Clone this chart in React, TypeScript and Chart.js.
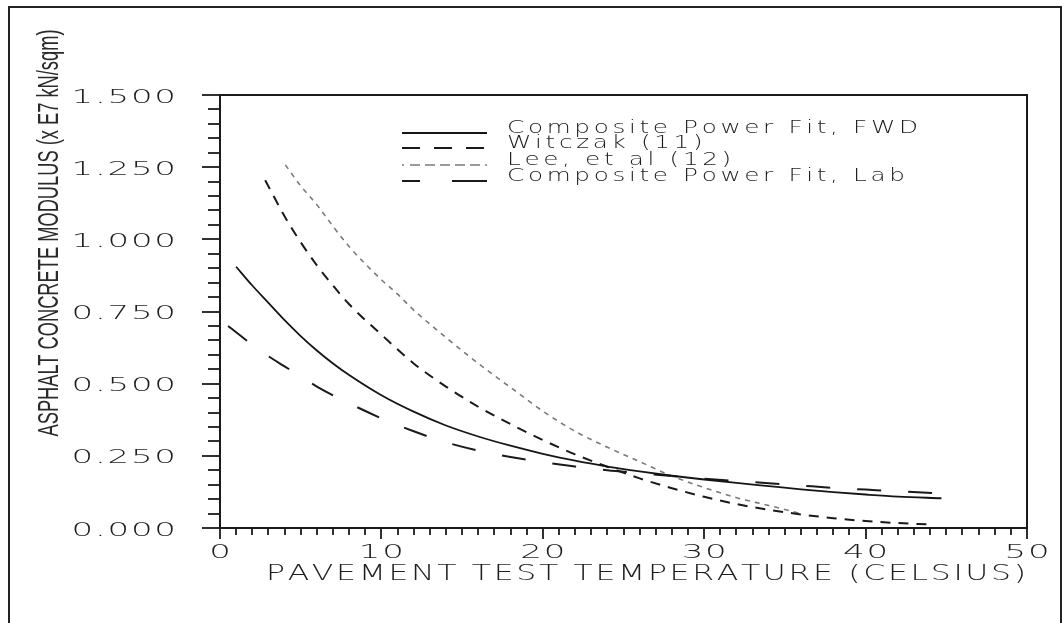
import React, { useEffect, useRef } from "react";
import { Chart, registerables } from "chart.js";

Chart.register(...registerables);

// ---------------- data (temperature in °C, modulus in x E7 kN/sqm) ----------------
const fwdTemp = [1, 2, 3, 4, 5, 6, 7, 8, 10, 12, 14, 16, 18, 20, 22, 24, 26, 28, 30, 32, 34, 36, 38, 40, 42, 44.7];
const fwdModulus = [0.905, 0.84, 0.78, 0.72, 0.665, 0.615, 0.57, 0.53, 0.46, 0.403, 0.355, 0.317, 0.285, 0.257, 0.233, 0.213, 0.196, 0.181, 0.168, 0.156, 0.145, 0.134, 0.124, 0.116, 0.109, 0.103];

const witczakTemp = [2.8, 4, 5, 6, 7, 8, 10, 12, 14, 16, 18, 20, 22, 24, 26, 28, 30, 32, 34, 36, 38, 40, 42, 44];
const witczakModulus = [1.205, 1.08, 0.99, 0.91, 0.84, 0.775, 0.67, 0.57, 0.49, 0.42, 0.36, 0.305, 0.255, 0.212, 0.172, 0.138, 0.108, 0.083, 0.063, 0.047, 0.034, 0.024, 0.017, 0.012];

const leeTemp = [4.05, 5, 6, 7, 8, 9, 10, 11, 12, 14, 16, 18, 20, 22, 24, 26, 28, 30, 32, 34, 36];
const leeModulus = [1.258, 1.185, 1.12, 1.045, 0.975, 0.915, 0.86, 0.81, 0.755, 0.66, 0.57, 0.487, 0.405, 0.335, 0.28, 0.23, 0.18, 0.14, 0.105, 0.078, 0.05];

const labTemp = [0.5, 2, 3, 4, 5, 6, 8, 10, 12, 14, 16, 18, 20, 22, 24, 26, 28, 30, 32, 34, 36, 38, 40, 42, 44.3];
const labModulus = [0.7, 0.635, 0.595, 0.56, 0.525, 0.49, 0.432, 0.38, 0.335, 0.297, 0.268, 0.246, 0.228, 0.213, 0.2, 0.19, 0.18, 0.171, 0.163, 0.155, 0.147, 0.139, 0.133, 0.127, 0.121];

const seriesLabels = [
  "Composite Power Fit, FWD",
  "Witczak (11)",
  "Lee, et al (12)",
  "Composite Power Fit, Lab",
];

const xTickValues = [0, 10, 20, 30, 40, 50];
const yTickValues = [0, 0.25, 0.5, 0.75, 1.0, 1.25, 1.5];
const xTitle = "PAVEMENT TEST TEMPERATURE (CELSIUS)";
const yTitle = "ASPHALT CONCRETE MODULUS (x E7 kN/sqm)";

// ---------------- styles ----------------
const TEXT_COLOR = "#1e1e1e";
const LINE_COLOR = "#1a1a1a";
const TICK_FONT = '200 20px "DejaVu Sans"';
const TITLE_FONT = '200 21px "DejaVu Sans"';
const LEGEND_FONT = '200 17px "DejaVu Sans"';
const YTITLE_FONT = '29px "Liberation Sans"';

const styles = [
  { color: "#151515", width: 1.8, dash: [] as number[], legendDash: [] as number[] },
  { color: "#1a1a1a", width: 2, dash: [10, 8], legendDash: [18, 14] },
  { color: "#7a7a7a", width: 1.6, dash: [5, 5], legendDash: [2, 6, 10, 5, 10, 5, 10, 5, 10, 5, 10, 5, 10] },
  { color: "#1a1a1a", width: 2, dash: [24, 27], legendDash: [18, 32, 40] },
];

function toPoints(xs: number[], ys: number[]) {
  return xs.map((x, i) => ({ x, y: ys[i] }));
}

function measureSpaced(ctx: CanvasRenderingContext2D, text: string, sx: number, sp: number) {
  let w = 0;
  for (const ch of text) w += ctx.measureText(ch).width * sx + sp;
  return w - sp;
}

function drawSpaced(ctx: CanvasRenderingContext2D, text: string, x: number, y: number, sx: number, sp: number) {
  let cx = x;
  for (const ch of text) {
    const cw = ctx.measureText(ch).width;
    ctx.save();
    ctx.translate(cx, y);
    ctx.scale(sx, 1);
    ctx.fillText(ch, 0, 0);
    ctx.restore();
    cx += cw * sx + sp;
  }
}

const decor = {
  id: "decor",
  afterDraw(chart: any) {
    const { ctx, chartArea: a, scales } = chart;
    const xs = scales.x;
    const ys = scales.y;
    ctx.save();
    ctx.setLineDash([]);

    // outer frame
    ctx.strokeStyle = "#222";
    ctx.lineWidth = 2;
    ctx.strokeRect(9, 7, 1052, 700);

    // plot box
    ctx.strokeStyle = LINE_COLOR;
    ctx.lineWidth = 2;
    ctx.strokeRect(a.left, a.top, a.right - a.left, a.bottom - a.top);

    // y ticks (minor every 0.05, major every 0.25)
    ctx.lineWidth = 1.8;
    for (let i = 0; i <= 30; i++) {
      const py = Math.round(ys.getPixelForValue(i * 0.05));
      const len = i % 5 === 0 ? 18 : 12;
      ctx.beginPath();
      ctx.moveTo(a.left - len, py);
      ctx.lineTo(a.left, py);
      ctx.stroke();
    }
    // x ticks (minor every 1, major every 10)
    for (let i = 0; i <= 50; i++) {
      const px = Math.round(xs.getPixelForValue(i));
      const len = i % 10 === 0 ? 11 : 7;
      ctx.beginPath();
      ctx.moveTo(px, a.bottom);
      ctx.lineTo(px, a.bottom + len);
      ctx.stroke();
    }

    ctx.fillStyle = TEXT_COLOR;
    ctx.textAlign = "left";
    ctx.textBaseline = "alphabetic";

    // tick labels
    ctx.font = TICK_FONT;
    const tsx = 1.7, tsp = 1.8;
    for (const v of yTickValues) {
      const t = v.toFixed(3);
      const w = measureSpaced(ctx, t, tsx, tsp);
      const py = ys.getPixelForValue(v);
      drawSpaced(ctx, t, 176 - w, py + 7.5, tsx, tsp);
    }
    for (const v of xTickValues) {
      const t = String(v);
      const w = measureSpaced(ctx, t, tsx, tsp);
      const px = xs.getPixelForValue(v);
      drawSpaced(ctx, t, px - w / 2, 557.5, tsx, tsp);
    }

    // x title
    ctx.font = TITLE_FONT;
    {
      const sx = 1.5;
      const nat = measureSpaced(ctx, xTitle, sx, 0);
      const sp = (760 - nat) / (xTitle.length - 1);
      drawSpaced(ctx, xTitle, 266, 580, sx, sp);
    }

    // y title (rotated, condensed)
    ctx.font = YTITLE_FONT;
    {
      const w = ctx.measureText(yTitle).width;
      const sx = 407 / w;
      ctx.save();
      ctx.translate(58, 233);
      ctx.rotate(-Math.PI / 2);
      ctx.scale(sx, 1);
      ctx.textAlign = "center";
      ctx.fillStyle = "#2a2a2a";
      ctx.fillText(yTitle, 0, 0);
      ctx.restore();
    }

    // legend
    ctx.font = LEGEND_FONT;
    const lsx = 1.45;
    const nat0 = measureSpaced(ctx, seriesLabels[0], lsx, 0);
    const lsp = (411 - nat0) / (seriesLabels[0].length - 1);
    const rows = [133, 148, 165, 181];
    seriesLabels.forEach((label, i) => {
      const st = styles[i];
      ctx.save();
      ctx.strokeStyle = st.color;
      ctx.lineWidth = st.width;
      ctx.setLineDash(st.legendDash);
      ctx.beginPath();
      ctx.moveTo(402, rows[i]);
      ctx.lineTo(487, rows[i]);
      ctx.stroke();
      ctx.restore();
      ctx.fillStyle = TEXT_COLOR;
      drawSpaced(ctx, label, 507, rows[i] - 0.5, lsx, lsp);
    });

    ctx.restore();
  },
};

export default function App() {
  const ref = useRef<HTMLCanvasElement>(null);

  useEffect(() => {
    const canvas = ref.current;
    if (!canvas) return;
    const seriesData = [
      toPoints(fwdTemp, fwdModulus),
      toPoints(witczakTemp, witczakModulus),
      toPoints(leeTemp, leeModulus),
      toPoints(labTemp, labModulus),
    ];
    const chart = new Chart(canvas, {
      type: "line",
      data: {
        datasets: seriesData.map((d, i) => ({
          label: seriesLabels[i],
          data: d,
          borderColor: styles[i].color,
          borderWidth: styles[i].width,
          borderDash: styles[i].dash,
          pointRadius: 0,
          fill: false,
          cubicInterpolationMode: "monotone" as const,
        })),
      },
      options: {
        responsive: false,
        animation: false,
        devicePixelRatio: 1,
        events: [],
        layout: { padding: { left: 0, right: 37, top: 95, bottom: 0 } },
        plugins: {
          legend: { display: false },
          tooltip: { enabled: false },
          title: { display: false },
        },
        scales: {
          x: {
            type: "linear",
            min: 0,
            max: 50,
            grid: { display: false },
            border: { display: false },
            ticks: { display: false, stepSize: 10 },
            afterFit: (s: any) => {
              s.height = 95;
            },
          },
          y: {
            type: "linear",
            min: 0,
            max: 1.5,
            grid: { display: false },
            border: { display: false },
            ticks: { display: false, stepSize: 0.25 },
            afterFit: (s: any) => {
              s.width = 220;
            },
          },
        },
      },
      plugins: [decor],
    });
    return () => chart.destroy();
  }, []);

  return (
    <div style={{ position: "fixed", left: 0, top: 0, width: 1064, height: 623, background: "#fff" }}>
      <canvas ref={ref} width={1064} height={623} style={{ display: "block", width: 1064, height: 623 }} />
    </div>
  );
}
